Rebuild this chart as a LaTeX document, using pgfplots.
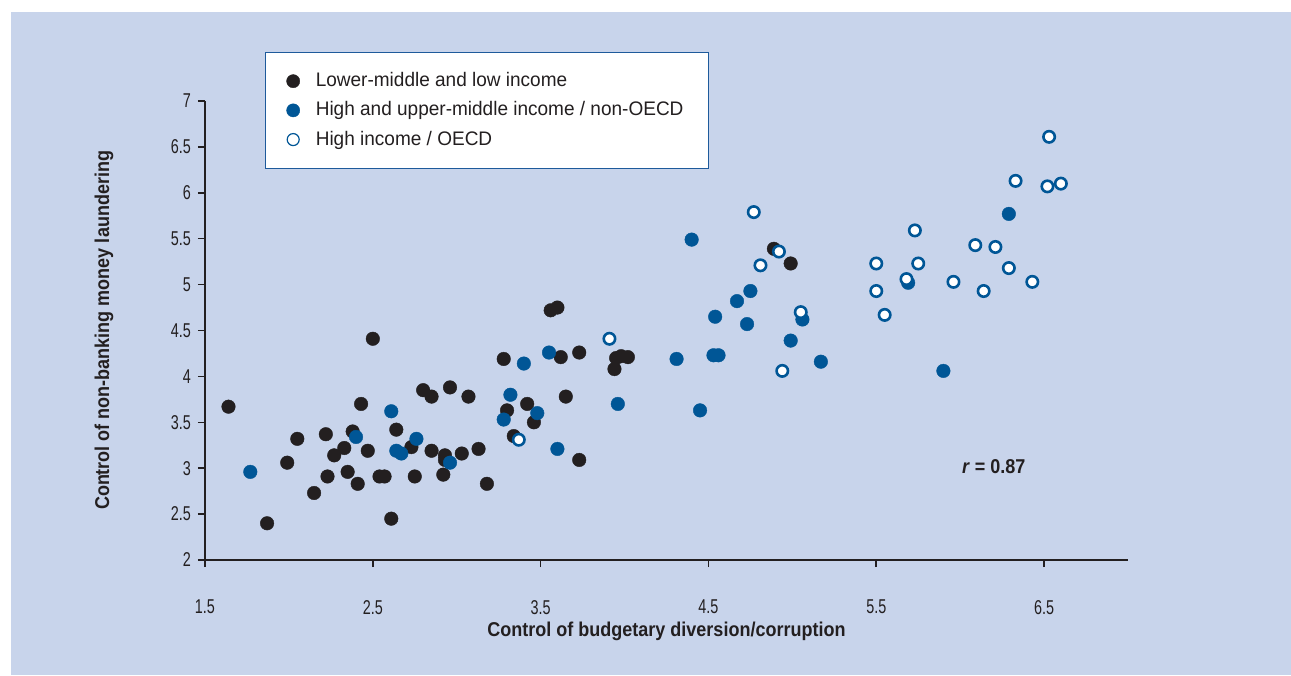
\documentclass[border=0pt]{standalone}
\usepackage{fontspec}
\setmainfont{Liberation Sans}
\newfontfamily\condfont{Liberation Sans}[FakeStretch=0.72]
\newfontfamily\labfont{Liberation Sans}[FakeStretch=0.9]
\newfontfamily\legfont{Liberation Sans}[FakeStretch=0.97]
\usepackage{pgfplots}
\pgfplotsset{compat=1.18}

\definecolor{panel}{RGB}{200,212,235}
\definecolor{dotblack}{RGB}{35,31,32}
\definecolor{dotblue}{RGB}{0,86,150}
\definecolor{frameblue}{RGB}{30,90,155}

\begin{document}
\begin{tikzpicture}
% page and panel
\fill[white] (-102.5pt,-57.5pt) rectangle (543pt,280pt);
\fill[panel] (-97pt,-57.5pt) rectangle (543pt,274pt);
\begin{axis}[
  at={(0,0)}, anchor=south west,
  scale only axis, width=461.5pt, height=229.5pt,
  xmin=1.5, xmax=7, ymin=2, ymax=7,
  axis x line*=bottom, axis y line*=left,
  axis line style={line width=1.3pt, dotblack},
  xtick={1.5,2.5,3.5,4.5,5.5,6.5},
  ytick={2,2.5,3,3.5,4,4.5,5,5.5,6,6.5,7},
  tick align=outside, major tick length=3.5pt,
  tick style={line width=0.8pt, dotblack},
  ticklabel style={font=\condfont\fontsize{10}{11}\selectfont, text=dotblack},
  /pgf/number format/assume math mode=true,
  xticklabel style={yshift=-13pt},
  yticklabel style={xshift=0pt},
  xlabel={Control of budgetary diversion/corruption},
  ylabel={Control of non-banking money laundering},
  label style={font=\labfont\bfseries\fontsize{10}{12}\selectfont, text=dotblack},
  xlabel style={at={(axis description cs:0.5,-0.1547)}, anchor=center},
  ylabel style={at={(axis description cs:-0.1094,0.5)}, anchor=center},
  clip=false,
  legend style={at={(axis description cs:0.065,1.1068)}, anchor=north west,
    draw=frameblue, fill=white, line width=0.6pt,
    font=\legfont\fontsize{9.8}{11}\selectfont, text=dotblack,
    inner xsep=10.5pt, inner ysep=8pt, row sep=2pt,
    /tikz/every odd column/.append style={column sep=6pt}},
  legend cell align=left,
]
\addlegendimage{only marks, mark=*, mark size=3.3pt, mark options={fill=dotblack, draw=dotblack, line width=0.2pt}}
\addlegendentry{Lower-middle and low income}
\addlegendimage{only marks, mark=*, mark size=3.3pt, mark options={fill=dotblue, draw=dotblue, line width=0.2pt}}
\addlegendentry{High and upper-middle income / non-OECD}
\addlegendimage{only marks, mark=*, mark size=3pt, mark options={fill=white, draw=dotblue, line width=0.6pt}}
\addlegendentry{High income / OECD}

% lower-middle and low income
\addplot[forget plot, only marks, mark=*, mark size=3.4pt,
  mark options={fill=dotblack, draw=dotblack, line width=0.2pt}] coordinates {
(1.64,3.67) (1.87,2.40) (1.99,3.06) (2.05,3.32) (2.15,2.73) (2.22,3.37)
(2.23,2.91) (2.27,3.14) (2.33,3.22) (2.35,2.96) (2.38,3.40) (2.41,2.83)
(2.43,3.70) (2.47,3.19) (2.50,4.41) (2.54,2.91) (2.57,2.91) (2.61,2.45)
(2.64,3.42) (2.73,3.23) (2.75,2.91) (2.80,3.85) (2.85,3.78) (2.85,3.19)
(2.93,3.14) (2.93,3.09) (2.92,2.93) (2.96,3.88) (3.03,3.16) (3.07,3.78)
(3.13,3.21) (3.18,2.83) (3.28,4.19) (3.30,3.63) (3.34,3.35) (3.42,3.70)
(3.46,3.50) (3.56,4.72) (3.60,4.75) (3.62,4.21) (3.65,3.78) (3.73,4.26)
(3.73,3.09) (3.94,4.08) (3.95,4.20) (3.98,4.22) (4.02,4.21) (4.89,5.39)
(4.99,5.23)
};
% high and upper-middle income, non-OECD
\addplot[forget plot, only marks, mark=*, mark size=3.4pt,
  mark options={fill=dotblue, draw=dotblue, line width=0.2pt}] coordinates {
(1.77,2.96) (2.40,3.34) (2.61,3.62) (2.64,3.19) (2.67,3.16) (2.76,3.32)
(2.96,3.06) (3.28,3.53) (3.32,3.80) (3.40,4.14) (3.48,3.60) (3.55,4.26)
(3.60,3.21) (3.96,3.70) (4.31,4.19) (4.40,5.49) (4.45,3.63) (4.53,4.23)
(4.56,4.23) (4.54,4.65) (4.67,4.82) (4.73,4.57) (4.75,4.93) (4.99,4.39)
(5.06,4.62) (5.17,4.16) (5.69,5.02) (5.90,4.06) (6.29,5.77)
};
% high income, OECD
\addplot[forget plot, only marks, mark=*, mark size=2.85pt,
  mark options={fill=white, draw=dotblue, line width=1.3pt}] coordinates {
(3.37,3.31) (3.91,4.41) (4.77,5.79) (4.81,5.21) (4.92,5.36) (4.94,4.06)
(5.05,4.70) (5.50,5.23) (5.50,4.93) (5.55,4.67) (5.68,5.06) (5.73,5.59)
(5.75,5.23) (5.96,5.03) (6.09,5.43) (6.14,4.93) (6.21,5.41) (6.29,5.18)
(6.33,6.13) (6.43,5.03) (6.52,6.07) (6.53,6.61) (6.60,6.10)
};
\node[font=\labfont\bfseries\fontsize{10}{12}\selectfont, text=dotblack]
  at (axis cs:6.2,3.013) {\textit{r} = 0.87};
\end{axis}
\end{tikzpicture}
\end{document}
